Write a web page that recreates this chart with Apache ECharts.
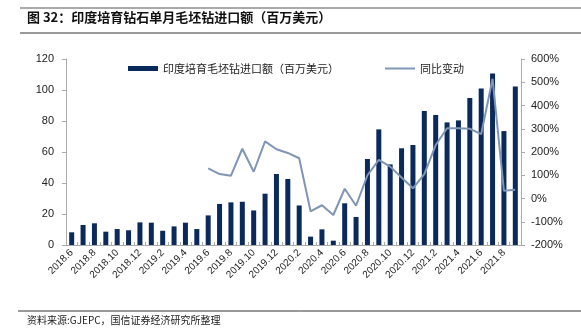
<!DOCTYPE html>
<html><head><meta charset="utf-8">
<script src="https://cdn.jsdelivr.net/npm/echarts@6/dist/echarts.min.js"></script>
<style>html,body{margin:0;padding:0;background:#fff}#c{width:581px;height:336px}</style>
</head><body><div id="c"></div>
<script>
var categories = ['2018.6','2018.7','2018.8','2018.9','2018.10','2018.11','2018.12','2019.1','2019.2','2019.3','2019.4','2019.5','2019.6','2019.7','2019.8','2019.9','2019.10','2019.11','2019.12','2020.1','2020.2','2020.3','2020.4','2020.5','2020.6','2020.7','2020.8','2020.9','2020.10','2020.11','2020.12','2021.1','2021.2','2021.3','2021.4','2021.5','2021.6','2021.7','2021.8','2021.9'];
var importValues = [8.2,12.9,14.0,8.6,10.3,9.5,14.6,14.4,9.2,12.0,14.4,10.3,19.1,26.5,27.5,27.9,22.3,33.1,45.8,42.6,25.5,5.4,10.1,2.8,26.9,18.1,55.5,74.6,52.0,62.4,64.5,86.5,83.9,79.1,80.4,94.8,100.9,110.7,73.5,102.2];
var yoyValues = [null,null,null,null,null,null,null,null,null,null,null,null,130,105,98,214,115,246,212,196,173,-55,-29,-71,42,-31,100,166,137,90,44,105,230,302,302,300,277,515,33,38];
var leftTicks = {min:0,max:120,interval:20};
var rightTicks = {min:-200,max:600,interval:100};
var titleText = '图 32：印度培育钻石单月毛坯钻进口额（百万美元）';
var sourceText = '资料来源:GJEPC，国信证券经济研究所整理';
var barName = '印度培育毛坯钻进口额（百万美元）';
var lineName = '同比变动';

var chart = echarts.init(document.getElementById('c'));
var axisFont = 'Liberation Sans, Arial, sans-serif';
chart.setOption({
  animation:false,
  grid:{left:66,right:60,top:59,bottom:91},
  graphic:[
    {type:'line',shape:{x1:20,y1:8,x2:581,y2:8},style:{stroke:'#555',lineWidth:1}},
    {type:'text',left:27,top:11,style:{text:titleText,font:'bold 13px "Noto Sans CJK SC", sans-serif',fill:'#111'}},
    {type:'line',shape:{x1:20,y1:33,x2:581,y2:33},style:{stroke:'#999',lineWidth:2}},
    {type:'line',shape:{x1:18,y1:311,x2:581,y2:311},style:{stroke:'#333',lineWidth:1}},
    {type:'text',left:27,top:315,style:{text:sourceText,font:'10px "Noto Sans CJK SC", sans-serif',fill:'#222'}}
  ],
  legend:{
    left:123,top:58,itemGap:46,itemWidth:30,itemHeight:5,
    textStyle:{fontSize:11,color:'#222',fontFamily:'"Noto Sans CJK SC", sans-serif'},
    data:[{name:barName,icon:'rect'},{name:lineName,icon:'path://M0 0H15V1H0Z'}]
  },
  xAxis:{
    type:'category',data:categories,
    axisLine:{lineStyle:{color:'#aaa'}},
    axisTick:{show:true,inside:true,length:3,interval:0,lineStyle:{color:'#aaa'}},
    axisLabel:{interval:1,rotate:45,fontSize:10,color:'#222',fontFamily:axisFont,margin:6}
  },
  yAxis:[
    {type:'value',min:leftTicks.min,max:leftTicks.max,interval:leftTicks.interval,
     splitLine:{show:false},
     axisLine:{show:true,lineStyle:{color:'#aaa'}},
     axisTick:{show:true,length:4,lineStyle:{color:'#aaa'}},
     axisLabel:{fontSize:11,color:'#222',fontFamily:axisFont,margin:12}},
    {type:'value',min:rightTicks.min,max:rightTicks.max,interval:rightTicks.interval,
     splitLine:{show:false},
     axisLine:{show:true,lineStyle:{color:'#aaa'}},
     axisTick:{show:true,length:4,lineStyle:{color:'#aaa'}},
     axisLabel:{formatter:'{value}%',fontSize:11,color:'#222',fontFamily:axisFont,margin:10}}
  ],
  series:[
    {name:barName,type:'bar',data:importValues,barWidth:5,itemStyle:{color:'#0b2a5c'}},
    {name:lineName,type:'line',yAxisIndex:1,data:yoyValues,symbol:'none',showSymbol:false,connectNulls:false,
     lineStyle:{color:'#7f95b5',width:2},itemStyle:{color:'#7f95b5'}}
  ]
});
</script></body></html>
